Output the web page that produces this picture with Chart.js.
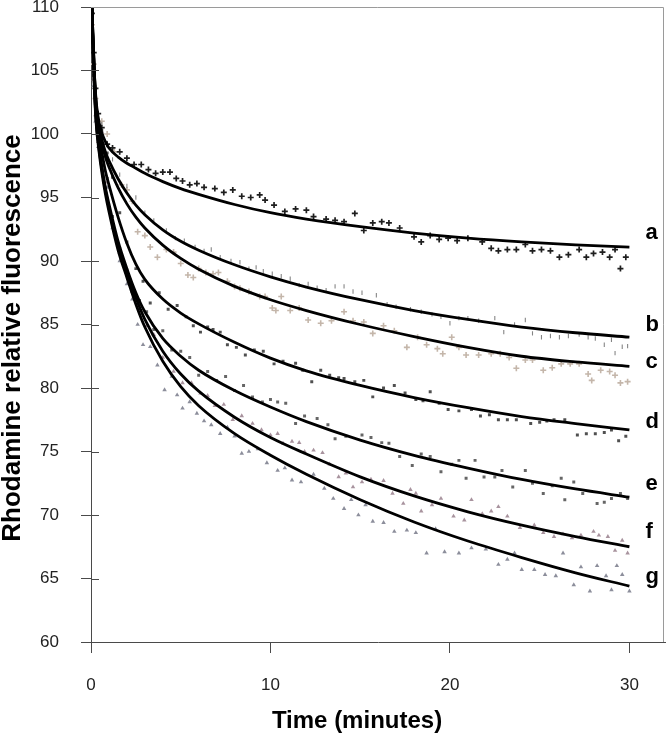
<!DOCTYPE html>
<html>
<head>
<meta charset="utf-8">
<script src="https://cdn.jsdelivr.net/npm/chart.js@4.4.1/dist/chart.umd.min.js"></script>
<style>
  html, body { margin: 0; padding: 0; background: #fff; }
  canvas { display: block; }
</style>
</head>
<body>
<canvas id="c" width="671" height="733"></canvas>
<script>
// ---------------- DATA ----------------
const curveLabels = ['a', 'b', 'c', 'd', 'e', 'f', 'g'];
const xTickLabels = ['0', '10', '20', '30'];
const yTickLabels = ['60', '65', '70', '75', '80', '85', '90', '95', '100', '105', '110'];
const xTitle = 'Time (minutes)';
const yTitle = 'Rhodamine relative fluorescence';

// fitted curves (black lines)
const fitTimes = [0, 0.1, 0.2, 0.3, 0.45, 0.6, 0.8, 1, 1.5, 2, 2.5, 3, 4, 5, 6, 8, 10, 12, 15, 18, 21, 24, 27, 30];
const fitA = [113, 108, 104.5, 102.4, 100.9, 100.1, 99.4, 98.9, 98.2, 97.7, 97.3, 96.9, 96.25, 95.7, 95.25, 94.45, 93.8, 93.3, 92.7, 92.2, 91.8, 91.5, 91.27, 91.1];
const fitB = [113, 108, 104.4, 102.2, 100.6, 99.6, 98.6, 97.9, 96.5, 95.35, 94.4, 93.65, 92.45, 91.55, 90.85, 89.7, 88.75, 87.95, 86.95, 86.1, 85.4, 84.8, 84.35, 84.0];
const fitC = [113, 108, 104.3, 102.0, 100.4, 99.3, 98.2, 97.4, 95.8, 94.5, 93.45, 92.6, 91.25, 90.2, 89.35, 88.0, 86.95, 86.1, 85.0, 84.05, 83.2, 82.5, 82.05, 81.7];
const fitD = [113, 107.8, 104.0, 101.6, 99.9, 98.6, 97.1, 96.0, 93.5, 91.4, 89.75, 88.55, 87.0, 85.9, 85.05, 83.6, 82.35, 81.35, 80.2, 79.25, 78.45, 77.75, 77.2, 76.7];
const fitE = [113, 107.5, 103.5, 101.0, 99.0, 97.5, 95.8, 94.5, 91.6, 89.4, 87.5, 86.0, 83.9, 82.5, 81.4, 79.8, 78.5, 77.35, 75.9, 74.7, 73.7, 72.8, 72.05, 71.4];
const fitF = [113, 107.4, 103.3, 100.8, 98.8, 97.3, 95.6, 94.2, 91.2, 89.1, 87.1, 85.4, 82.9, 81.1, 79.75, 77.7, 76.1, 74.8, 73.0, 71.5, 70.25, 69.2, 68.3, 67.5];
const fitG = [113, 107.3, 103.1, 100.6, 98.6, 97.0, 95.3, 93.9, 90.9, 88.7, 86.6, 84.8, 82.1, 80.1, 78.6, 76.4, 74.7, 73.2, 71.2, 69.45, 67.95, 66.65, 65.45, 64.4];

// measured points [time, fluorescence]
const pointsA = [[0.05,109.5],[0.15,106.4],[0.25,103.6],[0.4,101.6],[0.6,100.5],[0.9,99.2],[1.2,98.9],[1.6,98.6],[2.0,98.1],[2.4,97.6],[2.8,97.6],[3.2,97.2],[3.6,96.9],[4.0,97.0],[4.4,97.0],[4.75,96.5],[5.1,96.3],[5.5,96.0],[5.9,96.1],[6.3,95.8],[6.9,95.7],[7.4,95.4],[7.9,95.6],[8.4,95.1],[8.9,95.0],[9.4,95.2],[9.7,94.8],[10.2,94.4],[10.8,93.9],[11.4,94.1],[12.0,94.0],[12.4,93.5],[13.1,93.3],[13.6,93.2],[14.1,93.1],[14.7,93.75],[15.2,92.4],[15.7,93.0],[16.2,93.1],[16.6,93.0],[17.2,92.6],[18.0,91.9],[18.4,91.5],[18.9,92.0],[19.4,91.7],[19.9,91.8],[20.4,91.6],[21.0,91.8],[21.8,91.5],[22.3,91.0],[22.7,90.8],[23.2,90.9],[23.7,90.9],[24.2,91.3],[24.6,90.8],[25.1,90.9],[25.6,90.8],[26.1,90.3],[26.6,90.5],[27.2,90.9],[27.6,90.3],[28.0,90.6],[28.5,90.7],[28.9,90.3],[29.2,90.9],[29.5,89.4],[29.8,90.3]];
const pointsB = [[0.05,109.0],[0.15,106.0],[0.25,103.2],[0.4,101.3],[0.6,100.8],[0.9,99.3],[1.2,98.0],[1.6,96.8],[2.0,95.9],[2.5,95.0],[3.0,93.8],[3.5,93.2],[4.2,92.4],[4.7,91.8],[5.2,91.6],[5.8,91.1],[6.3,90.8],[6.7,90.9],[7.2,90.3],[7.8,90.0],[8.3,89.9],[8.8,89.4],[9.2,89.5],[9.6,89.2],[10.1,89.0],[10.6,88.8],[11.1,88.6],[11.6,88.1],[12.1,88.2],[12.6,87.9],[13.1,87.7],[13.6,88.0],[14.1,88.0],[14.6,87.6],[15.1,87.5],[15.9,87.3],[16.5,86.6],[17.0,86.4],[17.8,86.2],[18.4,86.0],[19.0,85.8],[19.5,85.6],[20.0,85.1],[20.5,85.5],[21.0,85.5],[21.6,85.3],[22.5,85.5],[23.0,84.4],[23.6,85.0],[24.2,85.35],[24.6,84.3],[25.1,84.0],[25.6,84.1],[26.1,84.0],[26.6,84.1],[27.2,84.2],[27.7,84.0],[28.1,83.9],[28.6,83.4],[29.0,83.8],[29.2,82.75],[29.6,83.25],[29.9,83.3]];
const pointsC = [[0.05,108.6],[0.15,105.5],[0.25,102.8],[0.4,101.0],[0.6,101.0],[0.9,100.0],[1.3,98.6],[1.7,96.0],[2.0,95.6],[2.3,94.7],[2.6,92.3],[3.0,92.0],[3.3,91.1],[3.7,90.3],[4.2,90.9],[4.6,90.7],[5.0,89.8],[5.4,88.9],[5.7,88.7],[6.0,89.4],[6.4,89.1],[6.8,89.0],[7.1,89.1],[7.6,88.4],[8.0,88.0],[8.3,87.85],[8.8,87.6],[9.4,87.2],[9.7,87.2],[10.1,86.3],[10.3,86.1],[10.6,87.2],[11.1,86.1],[11.6,86.3],[12.1,85.35],[12.8,85.1],[13.4,85.3],[14.1,86.0],[14.6,85.3],[15.2,85.2],[15.7,84.3],[16.3,84.9],[16.9,84.5],[17.6,83.2],[18.2,84.0],[18.7,83.4],[19.3,83.1],[19.6,82.7],[20.1,84.0],[20.5,83.2],[20.9,82.6],[21.6,82.6],[22.3,82.7],[22.8,82.7],[23.3,82.4],[23.7,81.55],[24.2,82.2],[24.6,82.2],[25.2,81.4],[25.7,81.6],[26.2,81.9],[26.7,81.9],[27.2,81.9],[27.7,81.1],[27.9,80.6],[28.4,81.4],[28.9,81.3],[29.2,81.0],[29.5,80.4],[29.9,80.5]];
const pointsD = [[0.05,108.2],[0.15,105.0],[0.25,102.4],[0.4,100.6],[0.6,100.3],[0.9,98.5],[1.2,96.6],[1.6,93.8],[2.0,91.5],[2.5,89.4],[2.9,88.4],[3.3,86.7],[3.8,87.5],[4.3,86.2],[4.8,86.5],[5.3,85.6],[5.7,84.9],[6.1,84.4],[6.5,84.8],[6.8,84.6],[7.2,84.4],[7.6,83.4],[8.1,83.2],[8.6,82.6],[9.1,83.0],[9.6,82.9],[10.2,81.9],[10.7,82.1],[11.4,81.95],[11.8,81.4],[12.3,80.5],[12.8,81.4],[13.3,81.0],[13.8,80.8],[14.1,80.75],[14.7,80.5],[15.2,80.6],[15.7,79.3],[16.3,80.0],[16.9,80.2],[17.5,79.6],[18.1,79.1],[18.5,79.0],[18.9,79.7],[19.4,78.8],[19.9,78.3],[20.5,78.2],[21.2,78.3],[21.7,77.8],[22.2,77.9],[22.7,77.5],[23.2,77.5],[23.7,77.5],[24.5,77.2],[25.0,77.3],[25.4,77.4],[25.8,77.5],[26.4,77.5],[27.1,76.3],[27.6,76.4],[28.1,76.4],[28.6,76.5],[29.0,76.7],[29.4,75.85],[29.8,76.2]];
const pointsE = [[0.05,107.8],[0.15,104.6],[0.25,101.9],[0.4,99.8],[0.6,100.0],[0.9,96.5],[1.2,93.5],[1.6,91.0],[2.0,89.3],[2.3,87.6],[2.7,86.9],[3.1,86.0],[3.5,84.6],[4.0,84.5],[4.5,83.0],[5.0,82.9],[5.5,82.4],[6.0,81.0],[6.5,81.3],[7.0,80.6],[7.5,80.9],[8.0,79.8],[8.5,80.2],[9.0,79.3],[9.55,78.9],[10.0,79.1],[10.4,78.9],[10.85,78.8],[11.4,77.2],[11.9,77.8],[12.6,77.6],[13.2,77.1],[13.6,76.0],[14.2,76.2],[15.1,76.3],[15.6,76.1],[16.2,75.7],[16.6,75.65],[17.2,74.6],[17.9,73.9],[18.4,74.8],[18.9,74.6],[19.5,73.4],[20.1,74.0],[20.5,74.3],[20.9,72.9],[21.4,74.3],[21.9,73.0],[22.5,73.0],[22.9,73.5],[23.5,72.2],[24.2,73.5],[24.6,72.5],[25.2,71.7],[25.7,72.3],[26.2,72.9],[26.4,71.2],[26.9,72.6],[27.4,71.7],[28.2,70.9],[28.6,71.0],[29.0,71.3],[29.5,71.7],[29.9,71.3]];
const pointsF = [[0.05,107.5],[0.15,104.3],[0.25,101.5],[0.4,99.4],[0.6,100.2],[0.9,96.2],[1.2,93.0],[1.6,90.7],[2.0,89.1],[2.3,87.6],[2.7,86.2],[3.1,84.9],[3.5,84.2],[4.0,82.4],[4.6,81.3],[5.1,80.4],[5.6,80.4],[6.1,79.6],[6.5,79.4],[6.9,78.6],[7.4,78.7],[7.9,77.5],[8.4,77.8],[9.0,77.2],[9.5,76.7],[10.0,76.3],[10.4,76.4],[10.7,75.65],[11.2,75.8],[11.6,75.7],[11.9,75.0],[12.4,75.1],[12.9,74.9],[13.3,74.0],[13.8,73.0],[14.2,73.3],[14.6,72.2],[15.1,72.6],[15.6,72.8],[16.3,72.7],[16.8,71.7],[17.4,70.9],[17.8,72.0],[18.1,71.7],[18.4,70.3],[19.0,70.8],[19.5,71.3],[20.2,69.9],[20.8,69.6],[21.2,71.2],[21.8,70.1],[22.3,70.3],[22.7,70.65],[23.2,69.9],[23.9,69.0],[24.7,69.2],[25.2,68.6],[25.8,68.3],[26.3,68.5],[26.8,68.2],[27.3,68.4],[28.0,68.7],[28.3,68.4],[28.8,68.3],[29.2,67.2],[29.6,68.0],[29.9,67.0]];
const pointsG = [[0.05,107.0],[0.15,103.8],[0.25,101.0],[0.4,99.0],[0.6,99.8],[0.9,95.8],[1.2,92.6],[1.6,90.0],[2.0,88.2],[2.3,87.0],[2.6,85.0],[2.9,83.4],[3.3,83.25],[3.7,81.8],[4.1,79.85],[4.5,80.9],[4.8,79.45],[5.1,78.4],[5.5,78.9],[5.9,78.0],[6.3,77.4],[6.7,77.1],[7.2,76.4],[7.6,76.9],[8.0,76.2],[8.4,74.85],[8.8,75.0],[9.3,75.2],[9.8,74.1],[10.4,73.5],[10.8,73.7],[11.2,72.75],[11.7,72.6],[12.4,73.2],[13.0,72.1],[13.5,71.3],[14.1,70.5],[14.5,71.2],[14.9,70.0],[15.3,70.8],[15.7,69.5],[16.3,69.4],[16.9,68.7],[17.6,68.8],[18.1,68.6],[18.7,67.0],[19.2,68.9],[19.7,67.1],[20.5,67.0],[21.2,67.4],[22.0,67.3],[22.7,66.1],[23.2,66.5],[23.6,67.0],[24.0,65.7],[24.7,65.7],[25.3,65.3],[25.9,65.2],[26.3,67.0],[26.9,64.5],[27.3,65.9],[27.8,64.0],[28.2,66.0],[28.7,65.2],[29.0,64.1],[29.3,66.0],[29.6,65.3],[30.0,64.0]];

// ---------------- STYLES ----------------
const FONT = '"Liberation Sans", Arial, Helvetica, sans-serif';
const AXIS_COLOR = '#4a4a4a';
const fits = [fitA, fitB, fitC, fitD, fitE, fitF, fitG];
const points = [pointsA, pointsB, pointsC, pointsD, pointsE, pointsF, pointsG];
const markerStyles = [
  { pointStyle: 'cross', radius: 3.0, color: '#1e1e1e', bw: 1.7, rot: 0 },
  { pointStyle: 'line', radius: 2.2, color: '#858585', bw: 1.1, rot: 90 },
  { pointStyle: 'cross', radius: 3.0, color: '#c4b6aa', bw: 1.6, rot: 0 },
  { pointStyle: 'rect', radius: 2.1, color: '#505050', bw: 0, rot: 0 },
  { pointStyle: 'rect', radius: 2.1, color: '#666666', bw: 0, rot: 0 },
  { pointStyle: 'triangle', radius: 2.6, color: '#a8939e', bw: 0, rot: 0 },
  { pointStyle: 'triangle', radius: 2.6, color: '#8c8e9b', bw: 0, rot: 0 }
];
const labelDy = [-8, -6, 2, -2, -7, -9, -3];

const datasets = [];
fits.forEach((vals, i) => {
  datasets.push({
    label: 'fit ' + curveLabels[i],
    data: fitTimes.map((t, k) => ({ x: t, y: vals[k] })),
    showLine: true,
    borderColor: '#000',
    borderWidth: 2.8,
    pointRadius: 0,
    cubicInterpolationMode: 'monotone',
    order: 0
  });
});
points.forEach((pts, i) => {
  const s = markerStyles[i];
  datasets.push({
    label: 'data ' + curveLabels[i],
    data: pts.map(p => ({ x: p[0], y: p[1] })),
    showLine: false,
    pointStyle: s.pointStyle,
    pointRadius: s.radius,
    pointRotation: s.rot,
    pointBorderWidth: s.bw,
    borderColor: s.color,
    backgroundColor: s.color,
    pointBorderColor: s.color,
    pointBackgroundColor: s.color,
    order: 1
  });
});

const decor = {
  id: 'decor',
  afterDraw(chart) {
    const { ctx, chartArea: ca, scales: { x, y } } = chart;
    ctx.save();
    // inner halves of the y tick marks
    ctx.strokeStyle = AXIS_COLOR;
    ctx.lineWidth = 1;
    y.ticks.forEach(t => {
      const py = Math.round(y.getPixelForValue(t.value)) + 0.5;
      ctx.beginPath();
      ctx.moveTo(ca.left, py);
      ctx.lineTo(ca.left + 8, py);
      ctx.stroke();
    });
    // plot frame (top and right)
    ctx.strokeStyle = '#9a9a9a';
    ctx.beginPath();
    ctx.moveTo(ca.left, Math.round(ca.top) + 0.5);
    ctx.lineTo(Math.round(ca.right) - 1.5, Math.round(ca.top) + 0.5);
    ctx.lineTo(Math.round(ca.right) - 1.5, ca.bottom);
    ctx.stroke();
    // curve letters
    ctx.fillStyle = '#000';
    ctx.font = 'bold 22px ' + FONT;
    ctx.textAlign = 'left';
    ctx.textBaseline = 'alphabetic';
    const xEnd = x.getPixelForValue(fitTimes[fitTimes.length - 1]);
    fits.forEach((vals, i) => {
      const yEnd = y.getPixelForValue(vals[vals.length - 1]);
      ctx.fillText(curveLabels[i], xEnd + 16, yEnd + labelDy[i]);
    });
    // axis titles
    ctx.textAlign = 'center';
    ctx.font = 'bold 24px ' + FONT;
    ctx.fillText(xTitle, 357, 728);
    ctx.font = 'bold 26px ' + FONT;
    ctx.translate(20, 338);
    ctx.rotate(-Math.PI / 2);
    ctx.fillText(yTitle, 0, 0);
    ctx.restore();
  }
};

new Chart(document.getElementById('c'), {
  type: 'scatter',
  data: { datasets },
  options: {
    responsive: false,
    animation: false,
    events: [],
    layout: { padding: { left: 0, right: 2, top: 7, bottom: 0 } },
    plugins: { legend: { display: false }, tooltip: { enabled: false } },
    scales: {
      x: {
        type: 'linear',
        min: 0,
        max: 32,
        afterFit(scale) { scale.height = 91; scale.paddingLeft = 0; scale.paddingRight = 0; },
        afterBuildTicks(scale) { scale.ticks = xTickLabels.map(v => ({ value: Number(v) })); },
        grid: { drawOnChartArea: false, drawTicks: true, tickLength: 11, color: AXIS_COLOR, lineWidth: 1 },
        border: { display: true, color: AXIS_COLOR, width: 1 },
        ticks: {
          padding: 22,
          color: '#222',
          font: { family: FONT, size: 17 },
          maxRotation: 0,
          callback: (v) => String(v)
        }
      },
      y: {
        type: 'linear',
        min: 60,
        max: 110,
        afterFit(scale) { scale.width = 91; scale.paddingTop = 0; scale.paddingBottom = 0; },
        afterBuildTicks(scale) { scale.ticks = yTickLabels.map(v => ({ value: Number(v) })); },
        grid: { drawOnChartArea: false, drawTicks: true, tickLength: 10, color: AXIS_COLOR, lineWidth: 1 },
        border: { display: true, color: AXIS_COLOR, width: 1 },
        ticks: {
          padding: 22,
          color: '#222',
          font: { family: FONT, size: 17 },
          callback: (v) => String(v)
        }
      }
    }
  },
  plugins: [decor]
});
</script>
</body>
</html>
